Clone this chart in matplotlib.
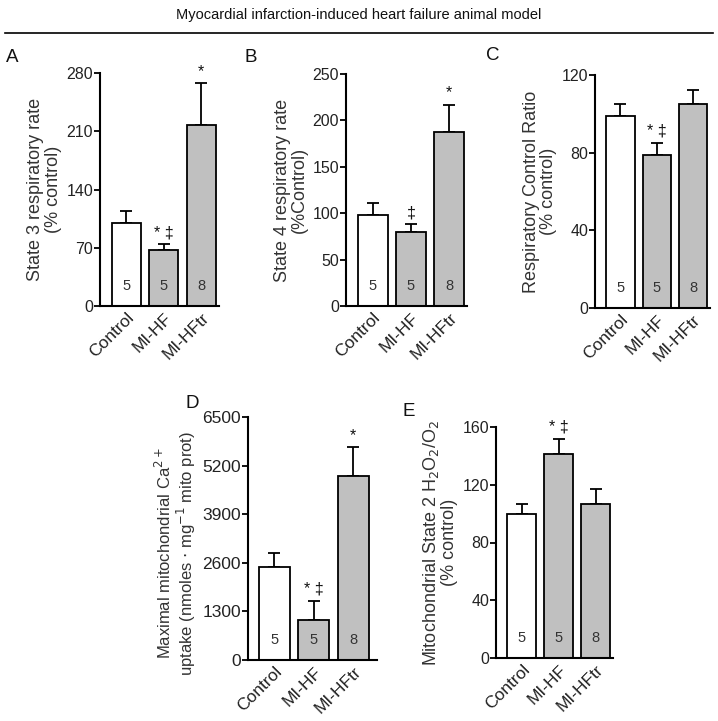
import numpy as np
import matplotlib
matplotlib.use("Agg")
import matplotlib.pyplot as plt
from matplotlib.lines import Line2D

plt.rcParams['font.family'] = ['Liberation Sans', 'DejaVu Sans']

groups = ["Control", "MI-HF", "MI-HFtr"]
n_animals = ["5", "5", "8"]

state3 = [100, 67, 218]
state3_err = [14, 7, 50]
state4 = [98, 80, 187]
state4_err = [13, 8, 30]
rcr = [99, 79, 105]
rcr_err = [6, 6, 7.5]
ca_uptake = [2500, 1080, 4910]
ca_uptake_err = [370, 510, 790]
h2o2 = [100, 141, 106.5]
h2o2_err = [7, 11, 10.5]

marks3 = ["", "* \u2021", "*"]
marks4 = ["", "\u2021", "*"]
marks_rcr = ["", "* \u2021", ""]
marks_ca = ["", "* \u2021", "*"]
marks_h2o2 = ["", "* \u2021", ""]

W, H = 718, 721
fig = plt.figure(figsize=(W / 100, H / 100), dpi=100)

fig.text(359 / W, 1 - 15 / H, "Myocardial infarction-induced heart failure animal model",
         ha="center", va="center", fontsize=10.5, color="#111111")
fig.add_artist(Line2D([5 / W, 713 / W], [1 - 33 / H, 1 - 33 / H], color="black", lw=1.2))

fills = ["white", "#c0c0c0", "#c0c0c0"]


def panel(box, letter, letter_xy, vals, errs, marks, ticks, ylabel,
          xlim=(-0.7, 2.47), labelpad=3, tick_fs=11.5, ylabel_fs=13):
    l, r, t, b = box
    ax = fig.add_axes([l / W, 1 - b / H, (r - l) / W, (b - t) / H])
    x = np.arange(len(vals))
    ax.bar(x, vals, width=0.78, color=fills, edgecolor="black", linewidth=1.3, zorder=2)
    ax.errorbar(x, vals, yerr=[np.zeros(len(errs)), errs], fmt="none", ecolor="black",
                elinewidth=1.3, capsize=4, capthick=1.3, zorder=1)
    ax.set_xlim(*xlim)
    ax.set_ylim(0, ticks[-1])
    ax.set_yticks(ticks)
    ax.set_yticklabels([str(v) for v in ticks], fontsize=tick_fs, color="#222222")
    ax.tick_params(axis="y", length=4, width=1.3, pad=1)
    ax.tick_params(axis="x", length=0, pad=3)
    ax.set_xticks(x)
    ax.set_xticklabels(groups, rotation=45, ha="right", rotation_mode="anchor",
                       fontsize=12.5, color="#222222")
    for s in ["top", "right"]:
        ax.spines[s].set_visible(False)
    for s in ["left", "bottom"]:
        ax.spines[s].set_linewidth(1.5)
    ax.set_ylabel(ylabel, fontsize=ylabel_fs, color="#333333", labelpad=labelpad,
                  linespacing=1.05)
    for xi, n in zip(x, n_animals):
        ax.annotate(n, (xi, 0), xytext=(0, 9), textcoords="offset points",
                    ha="center", va="bottom", fontsize=10.5, color="#333333")
    for xi, v, e, m in zip(x, vals, errs, marks):
        if m:
            ax.annotate(m, (xi, v + e), xytext=(0, 3), textcoords="offset points",
                        ha="center", va="bottom", fontsize=11.5, color="#111111")
    fig.text(letter_xy[0] / W, 1 - letter_xy[1] / H, letter, fontsize=13.5,
             ha="left", va="center", color="#111111")
    return ax


panel((100, 219, 73, 306), "A", (6, 58), state3, state3_err, marks3,
      [0, 70, 140, 210, 280], "State 3 respiratory rate\n(% control)")
panel((346, 467, 74, 306), "B", (245, 57), state4, state4_err, marks4,
      [0, 50, 100, 150, 200, 250], "State 4 respiratory rate\n(%Control)")
panel((595, 710, 75, 308), "C", (486, 56), rcr, rcr_err, marks_rcr,
      [0, 40, 80, 120], "Respiratory Control Ratio\n(% control)")
axD = panel((248, 377, 417, 660), "D", (186, 403), ca_uptake, ca_uptake_err, marks_ca,
            [0, 1300, 2600, 3900, 5200, 6500],
            "Maximal mitochondrial Ca$^{2+}$\nuptake (nmoles $\\cdot$ mg$^{-1}$ mito prot)",
            xlim=(-0.67, 2.6), tick_fs=12.5, ylabel_fs=12)
axD.yaxis.set_label_coords(-0.39, 0.44)
panel((496, 613, 427, 658), "E", (403, 411), h2o2, h2o2_err, marks_h2o2,
      [0, 40, 80, 120, 160], "Mitochondrial State 2 H$_2$O$_2$/O$_2$\n(% control)")

fig.savefig("out.png", dpi=100)
